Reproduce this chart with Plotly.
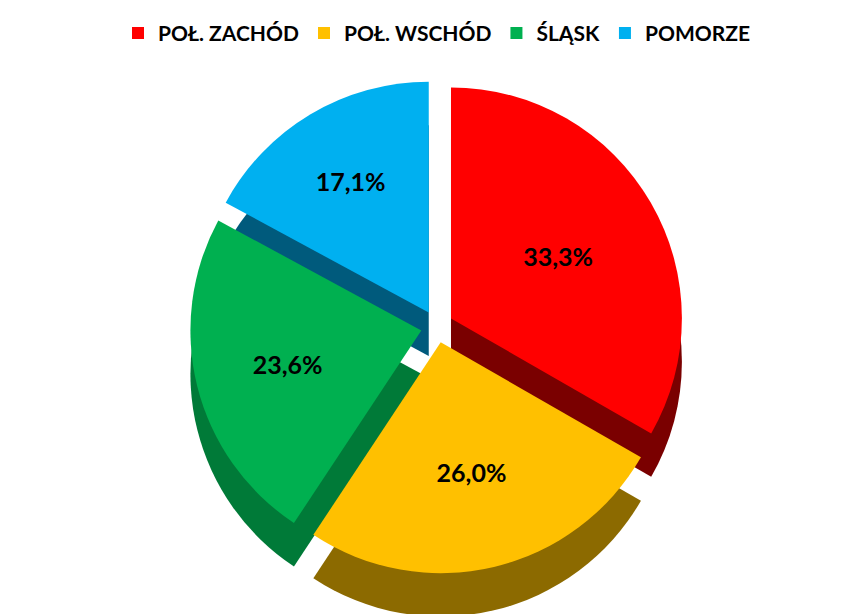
import plotly.graph_objects as go

labels = ["POŁ. ZACHÓD", "POŁ. WSCHÓD", "ŚLĄSK", "POMORZE"]
values = [33.3, 26.0, 23.6, 17.1]
text_labels = ["33,3%", "26,0%", "23,6%", "17,1%"]
top_colors = ["#FF0000", "#FFC000", "#00B050", "#00B0F0"]
side_colors = ["#7A0000", "#8C6A00", "#007A38", "#005A7C"]

pull = [0.07, 0.07, 0.07, 0.07]

fig = go.Figure()

# depth layer (darker, shifted down)
fig.add_trace(go.Pie(
    labels=labels, values=values, sort=False, direction="clockwise", rotation=0,
    marker=dict(colors=side_colors, line=dict(width=0)),
    pull=pull, textinfo="none", hoverinfo="skip", showlegend=False,
    domain=dict(x=[0, 1], y=[0.0, 0.91]),
))

# top layer
fig.add_trace(go.Pie(
    labels=labels, values=values, sort=False, direction="clockwise", rotation=0,
    marker=dict(colors=top_colors, line=dict(width=0)),
    pull=pull, text=text_labels, textinfo="text", textposition="inside",
    insidetextorientation="horizontal",
    textfont=dict(family="Lato", size=25, color="black", weight="bold"),
    domain=dict(x=[0, 1], y=[0.08, 0.99]),
    showlegend=True,
))

fig.update_layout(
    width=858, height=614,
    paper_bgcolor="white", plot_bgcolor="white",
    margin=dict(l=5, r=5, t=60, b=5),
    legend=dict(orientation="h", x=0.5, xanchor="center", y=1.075, yanchor="middle",
                font=dict(family="Lato", size=21, color="black", weight="bold"),
                itemsizing="constant", traceorder="normal"),
)

fig.write_html("out.html")
